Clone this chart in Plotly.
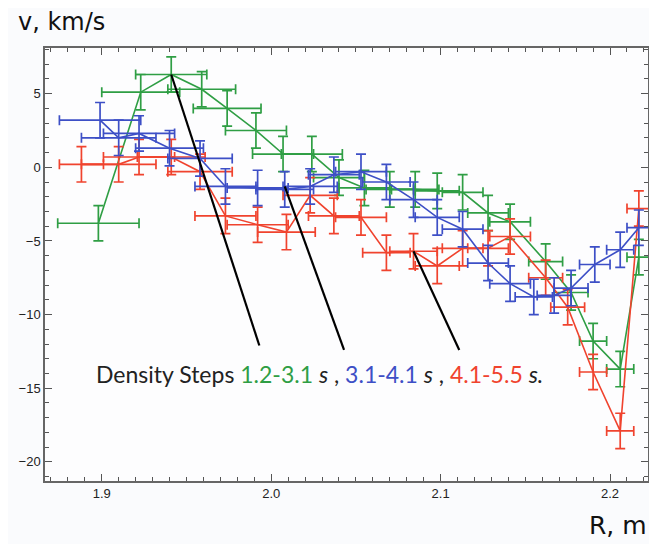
import plotly.graph_objects as go

# ---- data ----
green_x = [1.898, 1.923, 1.941, 1.959, 1.974, 1.991, 2.007, 2.024, 2.040, 2.055, 2.070,
           2.085, 2.098, 2.113, 2.128, 2.141, 2.162, 2.177, 2.190, 2.206, 2.217]
green_y = [-3.8, 5.1, 6.3, 5.3, 4.0, 2.5, 0.9, 0.9, -0.7, -1.4, -1.5,
           -1.5, -1.6, -1.7, -3.1, -3.7, -6.4, -8.5, -11.8, -13.7, -6.1]
green_xerr = [0.024, 0.023, 0.021, 0.020, 0.020, 0.018, 0.018, 0.018, 0.015, 0.015, 0.014,
              0.014, 0.013, 0.012, 0.012, 0.012, 0.010, 0.010, 0.008, 0.008, 0.007]
green_yerr = [1.2] * len(green_x)

blue_x = [1.899, 1.910, 1.922, 1.940, 1.958, 1.973, 1.992, 2.008, 2.023, 2.037, 2.053, 2.068,
          2.084, 2.098, 2.113, 2.128, 2.141, 2.155, 2.167, 2.177, 2.191, 2.206, 2.217]
blue_y = [3.2, 2.0, 2.3, 1.3, 0.6, -1.3, -1.4, -1.5, -1.3, -0.5, -0.3, -1.0,
          -2.2, -3.4, -4.2, -6.5, -7.9, -8.8, -8.7, -8.2, -6.6, -5.6, -4.1]
blue_xerr = [0.024, 0.022, 0.021, 0.020, 0.019, 0.018, 0.018, 0.017, 0.016, 0.015, 0.015, 0.014,
             0.014, 0.013, 0.012, 0.012, 0.012, 0.011, 0.010, 0.010, 0.009, 0.008, 0.007]
blue_yerr = [1.2] * len(blue_x)

red_x = [1.888, 1.910, 1.922, 1.941, 1.958, 1.973, 1.992, 2.009, 2.023, 2.037, 2.053,
         2.068, 2.084, 2.098, 2.113, 2.128, 2.141, 2.162, 2.175, 2.190, 2.206, 2.217]
red_y = [0.2, 0.2, 0.7, 0.7, -0.3, -3.3, -3.9, -4.4, -1.9, -3.3, -3.4,
         -5.8, -5.7, -6.7, -5.5, -5.5, -4.7, -7.5, -9.5, -13.9, -17.9, -2.8]
red_xerr = [0.013, 0.022, 0.021, 0.020, 0.019, 0.018, 0.018, 0.017, 0.016, 0.015, 0.015,
            0.014, 0.014, 0.013, 0.012, 0.012, 0.012, 0.010, 0.010, 0.008, 0.008, 0.007]
red_yerr = [1.2] * len(red_x)

x_ticks = [1.9, 2.0, 2.1, 2.2]
x_ticklabels = ["1.9", "2.0", "2.1", "2.2"]
y_ticks = [5, 0, -5, -10, -15, -20]

# leader-line label anchors (data coords where the lines meet the text)
label_anchor_x = [1.993, 2.043, 2.111]
label_anchor_y = [-12.1, -12.4, -12.4]

GREEN = "#2f9e44"
BLUE = "#3d4fc6"
RED = "#f0432e"

fig = go.Figure()
for xs, ys, xe, ye, col in [
    (green_x, green_y, green_xerr, green_yerr, GREEN),
    (red_x, red_y, red_xerr, red_yerr, RED),
    (blue_x, blue_y, blue_xerr, blue_yerr, BLUE),
]:
    fig.add_trace(go.Scatter(
        x=xs, y=ys, mode="lines",
        line=dict(color=col, width=1.6),
        error_x=dict(type="data", array=xe, visible=True, color=col, thickness=1.7, width=5),
        error_y=dict(type="data", array=ye, visible=True, color=col, thickness=1.7, width=5),
        showlegend=False, hoverinfo="skip",
    ))

# leader lines
starts = [(green_x[2], green_y[2]), (blue_x[7], blue_y[7] + 0.2), (red_x[12], red_y[12])]
for (sx, sy), ex, ey in zip(starts, label_anchor_x, label_anchor_y):
    fig.add_shape(type="line", xref="x", yref="y", x0=sx, y0=sy, x1=ex, y1=ey,
                  line=dict(color="black", width=2.2))

label = ("Density Steps <span style='color:%s'>1.2-3.1</span> <i>s</i> , "
         "<span style='color:%s'>3.1-4.1</span> <i>s</i> , "
         "<span style='color:%s'>4.1-5.5</span> <i>s.</i>") % (GREEN, BLUE, RED)
fig.add_annotation(text=label, xref="paper", yref="paper", x=0.456, y=0.247,
                   showarrow=False, xanchor="center", yanchor="middle",
                   font=dict(family="Lato", size=23, color="#222"))
fig.add_annotation(text="v, km/s", xref="paper", yref="paper", x=0.027, y=1.06,
                   showarrow=False, xanchor="center", yanchor="middle",
                   font=dict(family="DejaVu Sans", size=24, color="#111"))
fig.add_annotation(text="R, m", xref="paper", yref="paper", x=0.95, y=-0.102,
                   showarrow=False, xanchor="center", yanchor="middle",
                   font=dict(family="DejaVu Sans", size=25, color="#111"))

axis_common = dict(
    showgrid=False, zeroline=False, showline=True, linecolor="#666", linewidth=1.5,
    mirror="allticks", ticks="inside", ticklen=7, tickwidth=1.2, tickcolor="#555",
    tickfont=dict(family="Liberation Sans", size=13, color="#222"),
)
fig.update_xaxes(range=[1.8665, 2.2224], tickvals=x_ticks, ticktext=x_ticklabels,
                 minor=dict(dtick=0.01, ticks="inside", ticklen=4, tickcolor="#555", tickwidth=1),
                 **axis_common)
fig.update_yaxes(range=[-21.3, 8.1], tickvals=y_ticks,
                 minor=dict(dtick=1, ticks="inside", ticklen=4, tickcolor="#555", tickwidth=1),
                 **axis_common)

# the page body adds an 8px offset, so the figure is 8px smaller than the window
fig.update_layout(
    width=649, height=536,
    margin=dict(l=37, r=9, t=40, b=63, autoexpand=False),
    paper_bgcolor="#fafbfd", plot_bgcolor="#fdfdfe",
)
fig.write_html("out.html")
